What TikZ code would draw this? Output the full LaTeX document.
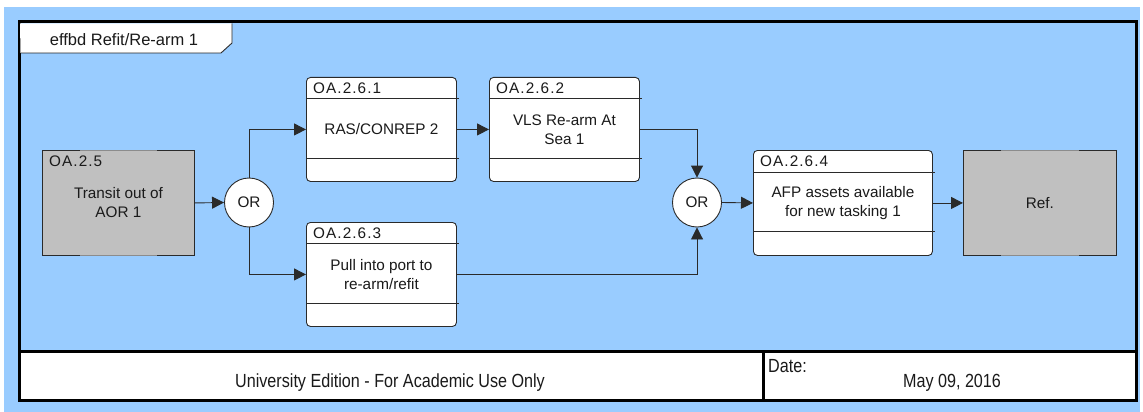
\documentclass[tikz,border=0pt]{standalone}
\usepackage{fontspec}
\setmainfont{Liberation Sans}
\newfontfamily\idfont[LetterSpace=7]{Liberation Sans}
\newfontfamily\narrowfont[FakeStretch=0.85]{Liberation Sans}
\usetikzlibrary{arrows.meta}
\definecolor{bgblue}{HTML}{99CCFF}
\definecolor{refgray}{HTML}{C0C0C0}
\definecolor{edgec}{HTML}{2A2A2A}
\definecolor{txt}{HTML}{1A1A1A}
\begin{document}
\begin{tikzpicture}[x=1pt,y=-1pt,
  font=\fontsize{15.3}{19}\selectfont, text=txt,
  fbox/.style={draw=edgec, fill=white, rounded corners=4pt, line width=0.9pt,
     inner sep=0pt, anchor=north west},
  gbox/.style={draw=gray!90, fill=refgray, line width=0.9pt, inner sep=0pt,
     anchor=north west, minimum width=152pt, minimum height=105pt},
  orgate/.style={circle, draw=edgec, fill=white, line width=0.9pt,
     minimum size=49pt, inner sep=0pt},
  sep/.style={draw=edgec, line width=0.8pt},
  idlab/.style={anchor=west, inner sep=0pt, font=\idfont\fontsize{15.3}{18}\selectfont},
  ftext/.style={align=center, inner sep=0pt},
  arr/.style={draw=edgec, line width=0.9pt, -{Triangle[length=12pt,width=12pt]}},
  foot/.style={inner sep=0pt, font=\narrowfont\fontsize{19}{22}\selectfont},
  frame/.style={draw=black, line width=3pt}
]
\useasboundingbox (0,0) rectangle (1143,412);
% background
\fill[bgblue] (4,7) rectangle (1140,412);
% footer
\fill[white] (19,351) rectangle (1136,400);
\draw[frame] (19,22) rectangle (1136,400);
\draw[frame] (19,351) -- (1136,351);
\draw[frame] (763,351) -- (763,400);
\node[foot] (univ) at (390,383) {University Edition - For Academic Use Only};
\node[foot, anchor=west] (datel) at (768,366) {Date:};
\node[foot] (date) at (952,383) {May 09, 2016};
% title tab
\path[fill=white] (20,23.5) -- (232,23.5) -- (232,43) -- (221,53) -- (20.5,53) -- cycle;
\draw[edgec, line width=0.9pt] (232,23.5) -- (232,43) -- (221,53) -- (20.5,53);
\node[inner sep=0pt, font=\fontsize{16.5}{18}\selectfont] (title) at (124,40) {effbd Refit/Re-arm 1};

% gray reference box OA.2.5
\node[gbox] (g1) at (42,150) {};
\draw[edgec, line width=0.9pt] ([xshift=38pt]g1.north west) -- (g1.north west) -- (g1.south west) -- ([xshift=38pt]g1.south west);
\draw[edgec, line width=0.9pt] ([xshift=-38pt]g1.north east) -- (g1.north east) -- (g1.south east) -- ([xshift=-38pt]g1.south east);
\node[idlab] (g1id) at (49,161) {OA.2.5};
\node[ftext] (g1t) at (g1.center) {Transit out of\\AOR 1};

% ref box
\node[gbox, minimum width=153pt] (ref) at (963,150) {};
\draw[edgec, line width=0.9pt] ([xshift=38pt]ref.north west) -- (ref.north west) -- (ref.south west) -- ([xshift=38pt]ref.south west);
\draw[edgec, line width=0.9pt] ([xshift=-38pt]ref.north east) -- (ref.north east) -- (ref.south east) -- ([xshift=-38pt]ref.south east);
\node[ftext] (reft) at (ref.center) {Ref.};

% OR gates
\node[orgate] (or1) at (249,202.5) {OR};
\node[orgate] (or2) at (697,202.5) {OR};

% function boxes
\node[fbox, minimum width=150pt, minimum height=104pt] (f1) at (306,77) {};
\draw[sep] ([yshift=-21pt]f1.north west) -- ([yshift=-21pt,xshift=2pt]f1.north east);
\draw[sep] ([yshift=24pt]f1.south west) -- ([yshift=24pt,xshift=2pt]f1.south east);
\node[idlab] (f1id) at (313,88) {OA.2.6.1};
\node[ftext] (f1t) at (f1.center) {RAS/CONREP 2};

\node[fbox, minimum width=150pt, minimum height=104pt] (f2) at (489,77) {};
\draw[sep] ([yshift=-21pt]f2.north west) -- ([yshift=-21pt,xshift=2pt]f2.north east);
\draw[sep] ([yshift=24pt]f2.south west) -- ([yshift=24pt,xshift=2pt]f2.south east);
\node[idlab] (f2id) at (496,88) {OA.2.6.2};
\node[ftext] (f2t) at (f2.center) {VLS Re-arm At\\Sea 1};

\node[fbox, minimum width=150pt, minimum height=104pt] (f3) at (306,222) {};
\draw[sep] ([yshift=-21pt]f3.north west) -- ([yshift=-21pt,xshift=2pt]f3.north east);
\draw[sep] ([yshift=24pt]f3.south west) -- ([yshift=24pt,xshift=2pt]f3.south east);
\node[idlab] (f3id) at (313,233) {OA.2.6.3};
\node[ftext] (f3t) at (f3.center) {Pull into port to\\re-arm/refit};

\node[fbox, minimum width=179pt, minimum height=105pt] (f4) at (753,150) {};
\draw[sep] ([yshift=-22pt]f4.north west) -- ([yshift=-22pt,xshift=2pt]f4.north east);
\draw[sep] ([yshift=25pt]f4.south west) -- ([yshift=25pt,xshift=2pt]f4.south east);
\node[idlab] (f4id) at (760,161) {OA.2.6.4};
\node[ftext] (f4t) at (f4.center) {AFP assets available\\for new tasking 1};

% connectors
\draw[arr] (g1.east) -- (or1.west);
\draw[arr] (or1.north) |- (f1.west);
\draw[arr] (or1.south) |- (f3.west);
\draw[arr] (f1.east) -- (f2.west);
\draw[arr] (f2.east) -| (or2.north);
\draw[arr] (f3.east) -| (or2.south);
\draw[arr] (or2.east) -- (f4.west);
\draw[arr] (f4.east) -- (ref.west);
\end{tikzpicture}
\end{document}
